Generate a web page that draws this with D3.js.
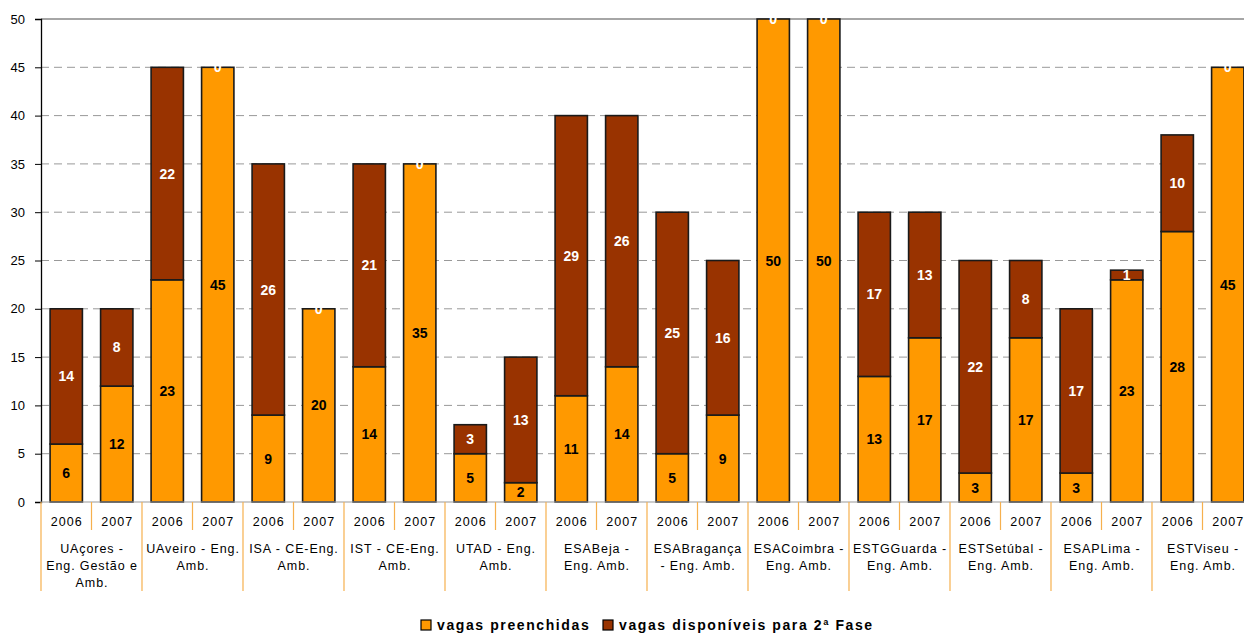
<!DOCTYPE html>
<html><head><meta charset="utf-8">
<script src="https://cdn.jsdelivr.net/npm/d3@7/dist/d3.min.js"></script>
<style>body{margin:0;background:#fff;}svg{display:block;font-family:"Liberation Sans",Arial,sans-serif;}</style>
</head><body><svg id="c" width="1244" height="634"></svg>
<script>
const groups = ["UAçores -\nEng. Gestão e\nAmb.","UAveiro - Eng.\nAmb.","ISA - CE-Eng.\nAmb.","IST - CE-Eng.\nAmb.","UTAD - Eng.\nAmb.","ESABeja -\nEng. Amb.","ESABragança\n- Eng. Amb.","ESACoimbra -\nEng. Amb.","ESTGGuarda -\nEng. Amb.","ESTSetúbal -\nEng. Amb.","ESAPLima -\nEng. Amb.","ESTViseu -\nEng. Amb."];
const years = ["2006","2007"];
const preenchidas = [6,12,23,45,9,20,14,35,5,2,11,14,5,9,50,50,13,17,3,17,3,23,28,45];
const disponiveis = [14,8,22,0,26,0,21,0,3,13,29,26,25,16,0,0,17,13,22,8,17,1,10,0];
const yTicks = [0,5,10,15,20,25,30,35,40,45,50];
const seriesNames = ["vagas preenchidas","vagas disponíveis para 2ª Fase"];
const colors = ["#FF9900","#993300"];

(function(){
const svg = d3.select("#c");
const mLeft = 41, mTop = 19, mBottom = 502;
const bandW = 50.5;
const cats = [];
groups.forEach((g,gi)=>years.forEach(y=>cats.push(gi+"|"+y)));
const x = d3.scaleBand().domain(cats).range([mLeft, mLeft + bandW*cats.length]).paddingInner(0.36).paddingOuter(0.18);
const y = d3.scaleLinear().domain([0,50]).range([mBottom, mTop]);

// gridlines
svg.append("g").selectAll("line").data(yTicks.filter(t=>t>0)).join("line")
  .attr("x1", mLeft).attr("x2", 1244).attr("y1", d=>y(d)).attr("y2", d=>y(d))
  .attr("stroke", d=>d===50?"#888":"#999").attr("stroke-width", d=>d===50?1.5:1)
  .attr("stroke-dasharray", d=>d===50?null:"8,5");

// y axis
const ya = svg.append("g").attr("transform",`translate(${mLeft},0)`)
  .call(d3.axisLeft(y).tickValues(yTicks).tickSize(6).tickPadding(10));
ya.select(".domain").attr("stroke","#000").attr("stroke-width",1.3);
ya.selectAll(".tick line").attr("stroke","#000");
ya.selectAll("text").attr("font-size",13).attr("fill","#000").attr("font-family","Liberation Sans, Arial, sans-serif");

// stacks
const data = cats.map((c,i)=>({c, a:preenchidas[i], b:disponiveis[i]}));
const g = svg.append("g");
data.forEach(d=>{
  const bx = x(d.c), bw = x.bandwidth();
  g.append("rect").attr("x",bx).attr("width",bw).attr("y",y(d.a)).attr("height",y(0)-y(d.a))
    .attr("fill",colors[0]).attr("stroke","#1a1a1a").attr("stroke-width",1.6);
  if (d.b>0) g.append("rect").attr("x",bx).attr("width",bw).attr("y",y(d.a+d.b)).attr("height",y(d.a)-y(d.a+d.b))
    .attr("fill",colors[1]).attr("stroke","#1a1a1a").attr("stroke-width",1.6);
});
const lab = svg.append("g").attr("font-weight","bold").attr("font-size",14).attr("text-anchor","middle");
data.forEach(d=>{
  const cx = x(d.c)+x.bandwidth()/2;
  lab.append("text").attr("x",cx).attr("y",y(d.a/2)).attr("dy","0.36em").attr("fill","#000").text(d.a);
  lab.append("text").attr("x",cx).attr("y",y(d.a+d.b/2)).attr("dy","0.36em").attr("fill","#fff").text(d.b);
});

// category axis
const ax = svg.append("g");
const sepColor = "#F6B04E";
ax.append("line").attr("x1",mLeft).attr("x2",1244).attr("y1",mBottom).attr("y2",mBottom).attr("stroke","#999").attr("stroke-width",1);
cats.forEach((c,i)=>{
  const bx0 = mLeft + i*bandW;
  const [gi,yr] = c.split("|");
  ax.append("text").attr("x",bx0+bandW/2+0.5).attr("y",526).attr("text-anchor","middle").attr("font-size",12.5)
    .attr("letter-spacing","1px").attr("fill","#000").text(yr);
  const isGroup = i%2===0;
  ax.append("line").attr("x1",bx0).attr("x2",bx0).attr("y1",mBottom).attr("y2",isGroup?591:530)
    .attr("stroke",sepColor).attr("stroke-width",1.2);
});
groups.forEach((gname,gi)=>{
  const cx = mLeft + gi*2*bandW + bandW + 0.5;
  const t = ax.append("text").attr("text-anchor","middle").attr("font-size",12.5).attr("letter-spacing","0.9px").attr("fill","#000");
  gname.split("\n").forEach((ln,li)=>{
    t.append("tspan").attr("x",cx).attr("y",553+li*17).text(ln);
  });
});

// legend
const lg = svg.append("g").attr("font-weight","bold").attr("font-size",14).attr("letter-spacing","1.6px");
const lx = [421, 603];
seriesNames.forEach((n,i)=>{
  lg.append("rect").attr("x",lx[i]).attr("y",620).attr("width",10).attr("height",10).attr("fill",colors[i]).attr("stroke","#000").attr("stroke-width",1.2);
  lg.append("text").attr("x",lx[i]+16).attr("y",630).attr("fill","#000").text(n);
});
})();
</script></body></html>
